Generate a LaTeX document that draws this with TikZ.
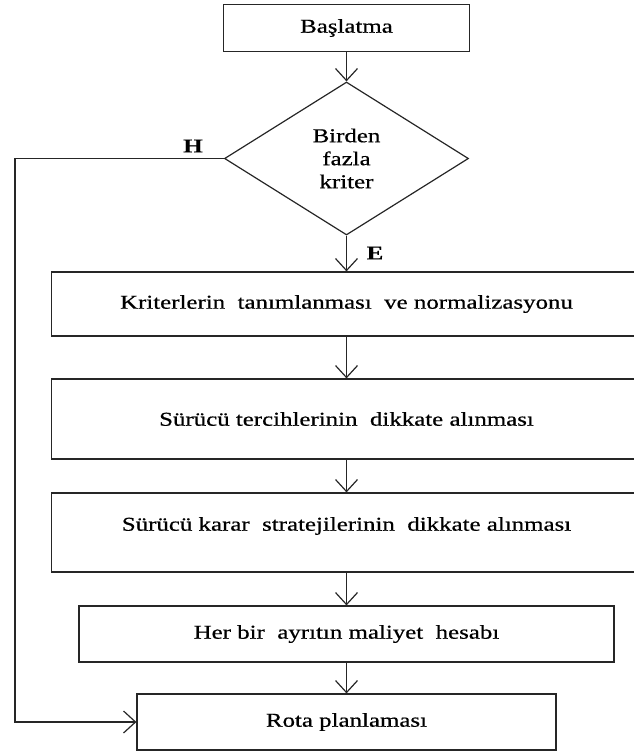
\documentclass[tikz,border=0pt]{standalone}
\usepackage{fontspec}
\setmainfont{Liberation Serif}[FakeStretch=1.27,FakeBold=0.6]
\usetikzlibrary{shapes.geometric,arrows.meta}
\begin{document}
\begin{tikzpicture}[x=1pt,y=-1pt,
  every node/.style={font=\fontsize{19.6}{23}\selectfont},
  stepbox/.style={draw=black!85, line width=1.2pt, inner sep=0pt},
  decbox/.style={draw=black!85, line width=1.2pt, diamond, aspect=1.6, inner sep=0pt, minimum width=244pt, minimum height=153pt, align=center},
  lbl/.style={font=\fontsize{19.6}{23}\selectfont\bfseries},
  conn/.style={draw=black!85, line width=1.2pt},
  arr/.style={conn, -{Straight Barb[length=12pt,width=22pt,line width=1.2pt]}}]
\useasboundingbox (0,0) rectangle (634,756);
\node[stepbox, minimum width=246pt, minimum height=47pt] (start) at (346.5,28) {Başlatma};
\node[decbox] (dec) at (346.5,158.5) {Birden\\fazla\\kriter};
\node[stepbox, minimum width=590pt, minimum height=64pt] (b1) at (346.5,304) {Kriterlerin\ \ tanımlanması\ \ ve normalizasyonu};
\node[stepbox, minimum width=590pt, minimum height=80pt] (b2) at (346.5,419) {Sürücü tercihlerinin\ \ dikkate alınması};
\node[stepbox, minimum width=590pt, minimum height=79pt] (b3) at (346.5,532.5) {};
\node (b3t) at (346.5,526) {Sürücü karar\ \ stratejilerinin\ \ dikkate alınması};
\node[stepbox, minimum width=535pt, minimum height=56pt] (b4) at (346.5,634) {Her bir\ \ ayrıtın maliyet\ \ hesabı};
\node[stepbox, minimum width=419pt, minimum height=56pt] (b5) at (346.5,722) {Rota planlaması};
\coordinate (corner) at (15,158.5);
\node[lbl] (h) at (193,146) {H};
\node[lbl] (e) at (375,253) {E};
\draw[arr] (start) -- (dec);
\draw[arr] (dec) -- (b1);
\draw[arr] (b1) -- (b2);
\draw[arr] (b2) -- (b3);
\draw[arr] (b3) -- (b4);
\draw[arr] (b4) -- (b5);
\draw[arr] (dec.west) -- (corner) |- (b5.west);
\end{tikzpicture}
\end{document}
